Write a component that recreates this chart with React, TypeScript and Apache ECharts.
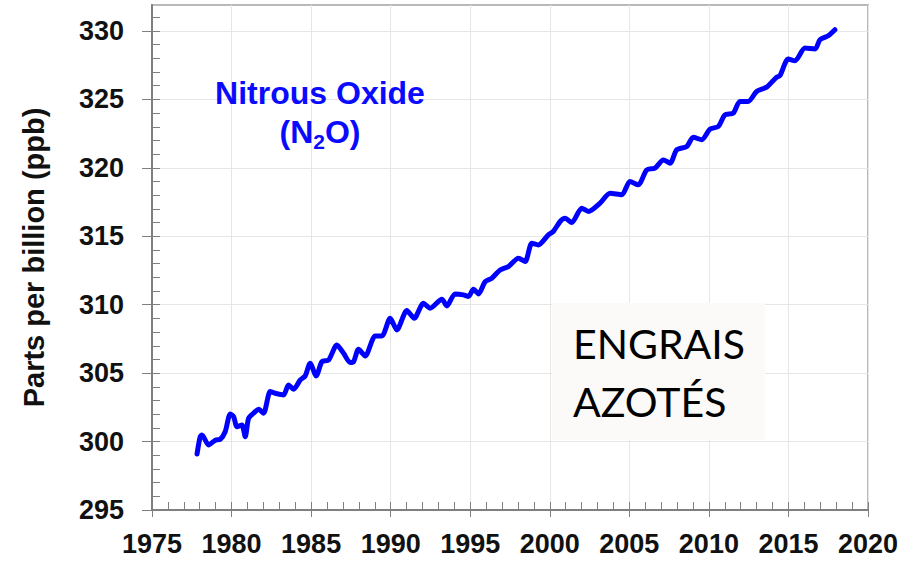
import React, { useEffect, useRef } from "react";
import * as echarts from "echarts";

// ---- data ----
const years = [
  1977.83, 1978.03, 1978.14, 1978.56, 1978.98, 1979.29, 1979.6, 1979.92, 1980.13, 1980.34,
  1980.65, 1980.86, 1981.07, 1981.38, 1981.7, 1982.01, 1982.43, 1982.74, 1983.27, 1983.58,
  1983.9, 1984.32, 1984.63, 1984.94, 1985.32, 1985.68, 1986.1, 1986.62, 1987.04, 1987.46,
  1987.67, 1987.98, 1988.4, 1989.03, 1989.45, 1989.97, 1990.39, 1991.02, 1991.48, 1992.06,
  1992.48, 1993.22, 1993.53, 1994.05, 1994.57, 1994.89, 1995.2, 1995.52, 1995.94, 1996.36,
  1996.88, 1997.4, 1998.03, 1998.45, 1998.87, 1999.28, 1999.91, 2000.22, 2000.65, 2000.96,
  2001.38, 2002.01, 2002.43, 2003.16, 2003.79, 2004.52, 2005.04, 2005.56, 2006.09, 2006.61,
  2007.14, 2007.56, 2007.98, 2008.61, 2009.02, 2009.55, 2010.07, 2010.59, 2011.01, 2011.53,
  2011.95, 2012.47, 2013.0, 2013.63, 2014.26, 2014.46, 2014.99, 2015.41, 2016.04, 2016.67,
  2016.98, 2017.5, 2017.92,
];
const n2o = [
  299.09, 300.36, 300.48, 299.75, 300.1, 300.17, 300.72, 302.02, 301.82, 301.09,
  301.21, 300.36, 301.7, 302.07, 302.36, 302.07, 303.65, 303.53, 303.41, 304.14,
  303.82, 304.5, 304.8, 305.72, 304.8, 305.84, 305.96, 307.06, 306.45, 305.77,
  305.84, 306.74, 306.26, 307.72, 307.72, 309.01, 308.16, 309.57, 309.01, 310.11,
  309.74, 310.4, 309.91, 310.79, 310.72, 310.6, 311.13, 310.79, 311.69, 311.94,
  312.54, 312.79, 313.4, 313.15, 314.49, 314.37, 315.1, 315.35, 316.08, 316.32,
  316.0, 317.05, 316.81, 317.42, 318.15, 318.03, 319.0, 318.76, 319.85, 319.98,
  320.58, 320.34, 321.32, 321.56, 322.24, 322.05, 322.83, 323.02, 323.87, 324.0,
  324.85, 324.85, 325.58, 325.9, 326.63, 326.73, 327.95, 327.82, 328.75, 328.68,
  329.36, 329.65, 330.09,
];
const xTicks = [1975, 1980, 1985, 1990, 1995, 2000, 2005, 2010, 2015, 2020];
const yTicks = [295, 300, 305, 310, 315, 320, 325, 330];
const xMinorTicks = [
  1976, 1977, 1978, 1979, 1981, 1982, 1983, 1984, 1986, 1987, 1988, 1989, 1991, 1992, 1993, 1994,
  1996, 1997, 1998, 1999, 2001, 2002, 2003, 2004, 2006, 2007, 2008, 2009, 2011, 2012, 2013, 2014,
  2016, 2017, 2018, 2019,
];
const yMinorTicks = [
  296, 297, 298, 299, 301, 302, 303, 304, 306, 307, 308, 309, 311, 312, 313, 314, 316, 317, 318, 319,
  321, 322, 323, 324, 326, 327, 328, 329, 331,
];
const titleLine1 = "Nitrous Oxide";
const yAxisTitle = "Parts per billion (ppb)";
const noteText = "ENGRAIS\nAZOTÉS";

const FONT = '"Liberation Sans", Arial, Helvetica, sans-serif';
const AXIS_GRAY = "#7f7f7f";

export default function App() {
  const ref = useRef<HTMLDivElement>(null);

  useEffect(() => {
    if (!ref.current) return;
    const chart = echarts.init(ref.current, undefined, { renderer: "svg" });

    const X_MIN = 1975;
    const X_MAX = 2020;
    const Y_MIN = 295;
    const Y_MAX = 331.9;

    const option: any = {
      animation: false,
      backgroundColor: "#ffffff",
      grid: {
        left: 152,
        right: 46,
        top: 5,
        bottom: 51,
        show: true,
        borderColor: "#b9b9b9",
        borderWidth: 2,
        backgroundColor: "transparent",
        containLabel: false,
        outerBoundsMode: "none",
      },
      xAxis: [
        {
          type: "value",
          min: X_MIN,
          max: X_MAX,
          interval: 5,
          position: "bottom",
          axisLine: { show: true, onZero: false, lineStyle: { color: AXIS_GRAY, width: 2 } },
          axisTick: {
            show: true,
            inside: false,
            length: 7,
            customValues: xTicks,
            lineStyle: { color: AXIS_GRAY, width: 1 },
          },
          axisLabel: {
            show: true,
            customValues: xTicks,
            formatter: (v: number) => String(Math.round(v)),
            color: "#111111",
            fontSize: 27,
            fontWeight: "bold",
            fontFamily: FONT,
            margin: 20,
            showMinLabel: true,
            showMaxLabel: true,
          },
          splitLine: { show: true, lineStyle: { color: "#e6e6e6", width: 1 } },
        },
        {
          type: "value",
          min: X_MIN,
          max: X_MAX,
          interval: 1,
          position: "bottom",
          axisLine: { show: false, onZero: false },
          axisTick: {
            show: true,
            inside: true,
            length: 8,
            customValues: [...xMinorTicks, ...xTicks],
            lineStyle: { color: AXIS_GRAY, width: 1 },
          },
          axisLabel: { show: false },
          splitLine: { show: false },
        },
      ],
      yAxis: [
        {
          type: "value",
          min: Y_MIN,
          max: Y_MAX,
          interval: 5,
          position: "left",
          axisLine: { show: true, onZero: false, lineStyle: { color: AXIS_GRAY, width: 2 } },
          axisTick: {
            show: true,
            inside: false,
            length: 10,
            customValues: yTicks,
            lineStyle: { color: AXIS_GRAY, width: 1 },
          },
          axisLabel: {
            show: true,
            customValues: yTicks,
            showMinLabel: true,
            showMaxLabel: true,
            formatter: (v: number) => (yTicks.indexOf(v) >= 0 ? String(v) : ""),
            color: "#111111",
            fontSize: 27,
            fontWeight: "bold",
            fontFamily: FONT,
            margin: 28,
          },
          splitLine: { show: true, lineStyle: { color: "#e6e6e6", width: 1 } },
          name: yAxisTitle,
          nameLocation: "middle",
          nameRotate: 90,
          nameGap: 104,
          nameTextStyle: {
            color: "#111111",
            fontSize: 29,
            fontWeight: "bold",
            fontFamily: FONT,
          },
        },
        {
          type: "value",
          min: Y_MIN,
          max: Y_MAX,
          interval: 1,
          position: "left",
          axisLine: { show: false, onZero: false },
          axisTick: {
            show: true,
            inside: true,
            length: 8,
            customValues: [...yMinorTicks, ...yTicks],
            lineStyle: { color: AXIS_GRAY, width: 1 },
          },
          axisLabel: { show: false },
          splitLine: { show: false },
        },
      ],
      series: [
        {
          type: "line",
          xAxisIndex: 0,
          yAxisIndex: 0,
          data: years.map((y, i) => [y, n2o[i]]),
          showSymbol: false,
          symbol: "none",
          smooth: 0.25,
          clip: false,
          lineStyle: { color: "#0000ff", width: 5, cap: "round", join: "round" },
          z: 5,
        },
      ],
      graphic: [
        {
          type: "text",
          x: 320,
          y: 93,
          z: 20,
          style: {
            text: titleLine1,
            fill: "#0a0aff",
            font: `bold 32px ${FONT}`,
            align: "center",
            verticalAlign: "middle",
            textAlign: "center",
            textVerticalAlign: "middle",
          },
        },
        {
          type: "text",
          x: 320,
          y: 132,
          z: 20,
          style: {
            text: "{a|(N}{b|2}{a|O)}",
            align: "center",
            verticalAlign: "middle",
            textAlign: "center",
            textVerticalAlign: "middle",
            rich: {
              a: { fontSize: 32, fontWeight: "bold", fontFamily: FONT, fill: "#0a0aff", color: "#0a0aff" },
              b: {
                fontSize: 21,
                fontWeight: "bold",
                fontFamily: FONT,
                fill: "#0a0aff",
                color: "#0a0aff",
                padding: [18, 0, 0, 0],
              },
            },
          },
        },
        {
          type: "rect",
          z: 30,
          shape: { x: 552, y: 303, width: 213, height: 137 },
          style: { fill: "#fbfaf8" },
        },
        {
          type: "text",
          x: 573,
          y: 314,
          z: 31,
          style: {
            text: noteText,
            fill: "#000000",
            font: '41px Lato, "Open Sans", sans-serif',
            lineHeight: 58,
            align: "left",
            verticalAlign: "top",
            textAlign: "left",
            textVerticalAlign: "top",
          },
        },
      ],
    };

    chart.setOption(option);
    return () => {
      chart.dispose();
    };
  }, []);

  return (
    <div
      ref={ref}
      style={{ position: "absolute", left: 0, top: 0, width: 914, height: 561, background: "#fff" }}
    />
  );
}
